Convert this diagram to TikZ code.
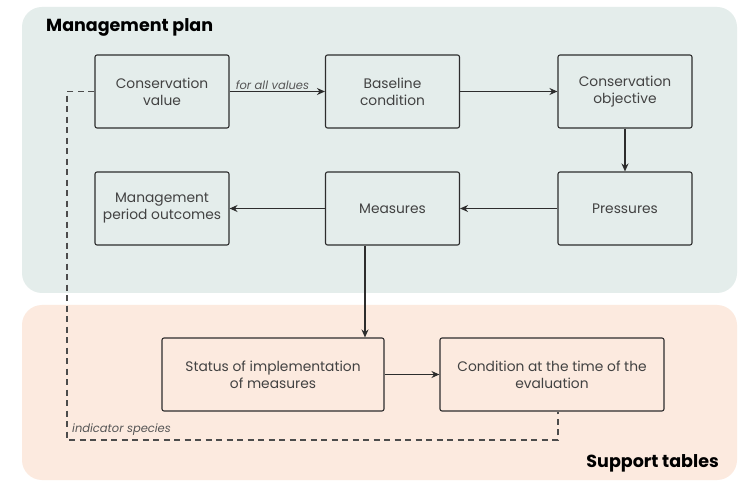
\documentclass[tikz,border=0pt]{standalone}
\usepackage{fontspec}
\setmainfont{Poppins}
\usetikzlibrary{arrows.meta}
\definecolor{topfill}{RGB}{228,237,235}
\definecolor{botfill}{RGB}{252,234,223}
\definecolor{edge}{RGB}{45,45,45}
\definecolor{lbl}{RGB}{85,85,85}
\tikzset{
  box/.style={draw=edge, line width=1.1pt, rounded corners=2pt, minimum width=134pt, minimum height=73pt, align=center, font=\fontsize{13.8}{17}\selectfont, text=edge!90, inner sep=2pt},
  arr/.style={draw=edge, line width=1.1pt, -{Stealth[length=8pt,width=7pt]}},
  dashline/.style={draw=edge!85, line width=1.1pt, dash pattern=on 6pt off 4.5pt},
  elabel/.style={font=\itshape\fontsize{11.5}{13}\selectfont, text=lbl, inner sep=1pt},
  title/.style={font=\bfseries\fontsize{17.5}{20}\selectfont, text=black, inner sep=0pt}
}
\begin{document}
\begin{tikzpicture}[x=1pt,y=-1pt]
\useasboundingbox[fill=white] (0,0) rectangle (740,481);
% panels
\fill[topfill, rounded corners=20pt] (22,7) rectangle (737,293);
\fill[botfill, rounded corners=20pt] (22,305) rectangle (737,480);
\node[title, anchor=west] (t1) at (46,27) {Management plan};
\node[title, anchor=east] (t2) at (719,463) {Support tables};
% boxes
\node[box] (cv) at (162,91.5) {Conservation\\value};
\node[box] (bc) at (392.5,91.5) {Baseline\\condition};
\node[box] (co) at (625,91.5) {Conservation\\objective};
\node[box] (mpo) at (162,208.5) {Management\\period outcomes};
\node[box] (ms) at (392.5,208.5) {Measures};
\node[box] (pr) at (625,208.5) {Pressures};
\node[box, minimum width=222pt] (st) at (273,374.5) {Status of implementation\\of measures};
\node[box, minimum width=224pt] (cd) at (552,374.5) {Condition at the time of the\\evaluation};
% connectors
\draw[arr] (cv) -- node[elabel, above, pos=0.45] {for all values} (bc);
\draw[arr] (bc) -- (co);
\draw[arr] (co) -- (pr);
\draw[arr] (pr) -- (ms);
\draw[arr] (ms) -- (mpo);
\draw[arr] ([xshift=-27.5pt]ms.south) -- ([xshift=-27.5pt]ms.south |- st.north);
\draw[arr] (st) -- (cd);
\coordinate (dl) at (67,440);
\draw[dashline] (cv.west) -| (dl) -| ([xshift=6pt]cd.south);
\node[elabel, anchor=south west] (is) at (71,437) {indicator species};
\end{tikzpicture}
\end{document}
